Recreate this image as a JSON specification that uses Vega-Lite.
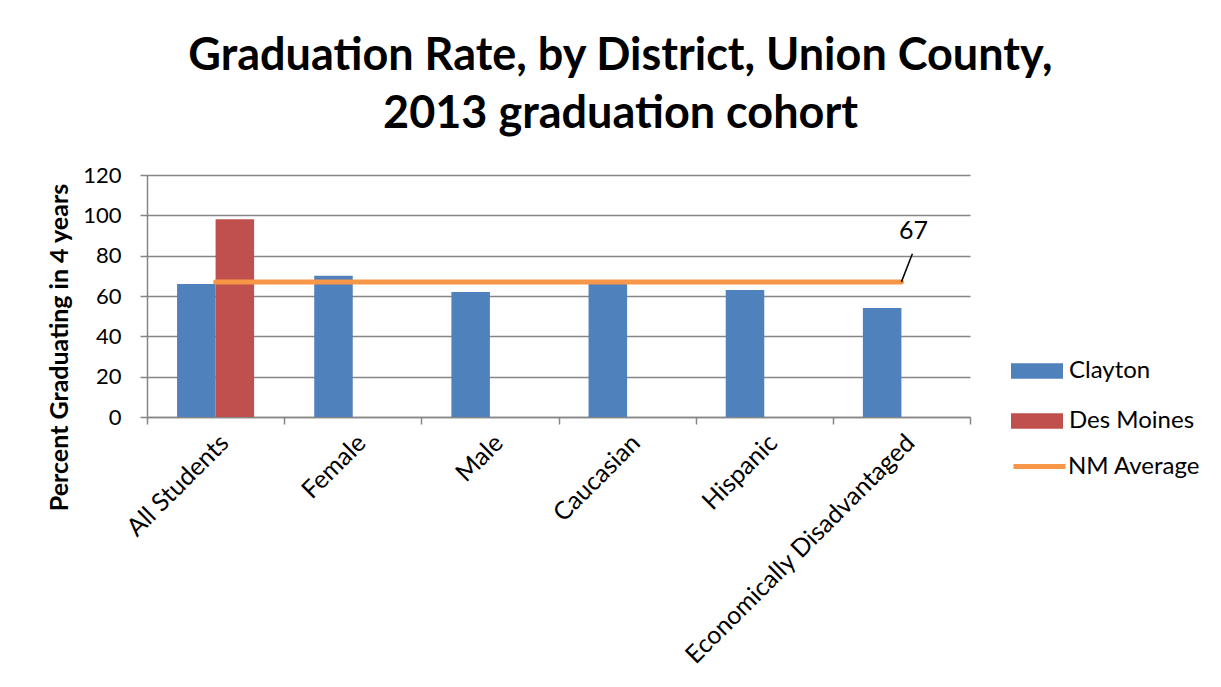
{
  "$schema": "https://vega.github.io/schema/vega-lite/v6.json",
  "width": 823,
  "height": 242,
  "autosize": {"type": "none"},
  "padding": {"left": 147, "top": 175, "right": 251, "bottom": 270},
  "background": "white",
  "config": {
    "font": "Lato",
    "view": {"stroke": null}
  },
  "title": {
    "text": ["Graduation Rate, by District,  Union County,", "2013 graduation cohort"],
    "font": "Lato",
    "fontSize": 45,
    "fontWeight": "bold",
    "color": "black",
    "anchor": "middle",
    "dx": 62,
    "lineHeight": 58,
    "offset": 27
  },
  "datasets": {
    "bars": [
      {"category": "All Students", "series": "Clayton", "value": 66},
      {"category": "All Students", "series": "Des Moines", "value": 98},
      {"category": "Female", "series": "Clayton", "value": 70},
      {"category": "Male", "series": "Clayton", "value": 62},
      {"category": "Caucasian", "series": "Clayton", "value": 67},
      {"category": "Hispanic", "series": "Clayton", "value": 63},
      {"category": "Economically Disadvantaged", "series": "Clayton", "value": 54}
    ],
    "avg": [
      {"category": "All Students", "series": "NM Average", "value": 67},
      {"category": "Female", "series": "NM Average", "value": 67},
      {"category": "Male", "series": "NM Average", "value": 67},
      {"category": "Caucasian", "series": "NM Average", "value": 67},
      {"category": "Hispanic", "series": "NM Average", "value": 67},
      {"category": "Economically Disadvantaged", "series": "NM Average", "value": 67}
    ],
    "label": [
      {"category": "Economically Disadvantaged", "value": 67, "labelValue": 81, "text": "67"}
    ]
  },
  "encoding": {
    "x": {
      "field": "category",
      "type": "nominal",
      "sort": ["All Students", "Female", "Male", "Caucasian", "Hispanic", "Economically Disadvantaged"],
      "scale": {"paddingInner": 0, "paddingOuter": 0},
      "axis": {
        "title": null,
        "labelAngle": -45,
        "labelFontSize": 25,
        "labelColor": "black",
        "labelFont": "Lato",
        "labelLimit": 500,
        "domainColor": "#868686",
        "domainWidth": 1.5,
        "tickColor": "#868686",
        "tickWidth": 1.5,
        "tickBand": "extent",
        "tickSize": 7,
        "labelPadding": 6,
        "grid": false
      }
    }
  },
  "layer": [
    {
      "data": {"name": "bars"},
      "mark": {"type": "bar"},
      "encoding": {
        "xOffset": {"field": "series", "type": "nominal", "scale": {"domain": ["Clayton", "Des Moines"], "paddingInner": 0, "paddingOuter": 0.78}},
        "y": {
          "field": "value",
          "type": "quantitative",
          "scale": {"domain": [0, 120]},
          "axis": {
            "title": "Percent Graduating in 4 years",
            "titleFontSize": 25,
            "titleFont": "Lato",
            "titleFontWeight": "bold",
            "titleColor": "black",
            "titlePadding": 10,
            "titleY": 172,
            "values": [0, 20, 40, 60, 80, 100, 120],
            "labelFontSize": 22,
            "labelColor": "black",
            "labelFont": "Lato",
            "labelPadding": 19,
            "tickSize": 7,
            "tickColor": "#868686",
            "tickWidth": 1.5,
            "domainColor": "#868686",
            "domainWidth": 1.5,
            "gridColor": "#868686",
            "gridWidth": 1.5
          }
        },
        "color": {
          "field": "series",
          "type": "nominal",
          "scale": {"domain": ["Clayton", "Des Moines"], "range": ["#4F81BD", "#C0504D"]},
          "legend": {
            "title": null,
            "orient": "none",
            "legendX": 864,
            "legendY": 170,
            "labelFontSize": 24,
            "labelFont": "Lato",
            "labelColor": "black",
            "symbolType": "M-1,-0.3L1,-0.3L1,0.3L-1,0.3Z",
            "symbolSize": 2704,
            "symbolStrokeWidth": 0,
            "rowPadding": 12,
            "labelOffset": 6
          }
        }
      }
    },
    {
      "data": {"name": "avg"},
      "mark": {"type": "line", "strokeWidth": 5, "strokeCap": "round"},
      "encoding": {
        "y": {"field": "value", "type": "quantitative"},
        "stroke": {
          "field": "series",
          "type": "nominal",
          "scale": {"domain": ["NM Average"], "range": ["#F79646"]},
          "legend": {
            "title": null,
            "orient": "none",
            "legendX": 864,
            "legendY": 263,
            "labelFontSize": 24,
            "labelFont": "Lato",
            "labelColor": "black",
            "symbolType": "stroke",
            "symbolSize": 2704,
            "symbolStrokeWidth": 5,
            "labelOffset": 0
          }
        }
      }
    },
    {
      "data": {"name": "label"},
      "mark": {"type": "rule", "color": "black", "strokeWidth": 1.5, "x2Offset": 11},
      "encoding": {
        "x2": {"field": "category"},
        "y": {"field": "value", "type": "quantitative"},
        "y2": {"field": "labelValue"}
      }
    },
    {
      "data": {"name": "label"},
      "mark": {"type": "text", "fontSize": 25, "font": "Lato", "color": "black", "dx": 12, "dy": -23},
      "encoding": {
        "y": {"field": "labelValue", "type": "quantitative"},
        "text": {"field": "text"}
      }
    }
  ]
}
